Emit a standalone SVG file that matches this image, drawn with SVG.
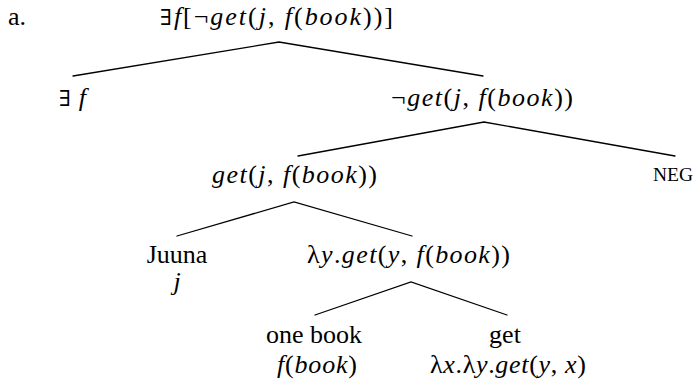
<svg xmlns="http://www.w3.org/2000/svg" width="698" height="381" viewBox="0 0 698 381">
  <style>
    .t { font-family: "Liberation Serif", "Times New Roman", serif; font-size: 26px; fill: #000; }
    .i { font-style: italic; }
    .op { font-family: "DejaVu Serif", "Liberation Serif", serif; font-size: 22px; font-style: normal; }
    .sc { font-size: 19.5px; }
    .edge { stroke: #000; stroke-width: 1.3; fill: none; stroke-linecap: round; }
  </style>
  <rect width="698" height="381" fill="#fff"/>

  <text class="t" x="8" y="25">a.</text>

  <!-- tree branches -->
  <g id="connectors">
    <path class="edge" d="M73,76 L279,42 L483,76"/>
    <path class="edge" d="M298,156 L484,122 L675,156"/>
    <path class="edge" d="M177,236 L294,202 L412,236"/>
    <path class="edge" d="M315,315 L411,282 L507,315"/>
  </g>

  <g id="root">
    <text class="t" x="160" y="25" textLength="233" lengthAdjust="spacing"><tspan class="op">∃</tspan><tspan class="i">f</tspan>[¬<tspan class="i">get</tspan>(<tspan class="i">j</tspan>, <tspan class="i">f</tspan>(<tspan class="i">book</tspan>))]</text>
  </g>

  <g id="exists">
    <text class="t" x="59" y="106" textLength="27" lengthAdjust="spacing"><tspan class="op">∃</tspan><tspan class="i">f</tspan></text>
  </g>

  <g id="neg-get">
    <text class="t" x="391" y="106" textLength="182" lengthAdjust="spacing">¬<tspan class="i">get</tspan>(<tspan class="i">j</tspan>, <tspan class="i">f</tspan>(<tspan class="i">book</tspan>))</text>
  </g>

  <g id="get-j">
    <text class="t" x="212" y="183" textLength="165" lengthAdjust="spacing"><tspan class="i">get</tspan>(<tspan class="i">j</tspan>, <tspan class="i">f</tspan>(<tspan class="i">book</tspan>))</text>
  </g>

  <g id="neg">
    <text class="t sc" x="653" y="181">NEG</text>
  </g>

  <g id="juuna">
    <text class="t" x="177" y="263" text-anchor="middle">Juuna</text>
    <text class="t i" x="177" y="290" text-anchor="middle">j</text>
  </g>

  <g id="lambda-y">
    <text class="t" x="307" y="263" textLength="203" lengthAdjust="spacing">λ<tspan class="i">y</tspan>.<tspan class="i">get</tspan>(<tspan class="i">y</tspan>, <tspan class="i">f</tspan>(<tspan class="i">book</tspan>))</text>
  </g>

  <g id="one-book">
    <text class="t" x="314" y="343" text-anchor="middle">one book</text>
    <text class="t" x="277" y="373" textLength="80" lengthAdjust="spacing"><tspan class="i">f</tspan>(<tspan class="i">book</tspan>)</text>
  </g>

  <g id="get">
    <text class="t" x="505" y="343" text-anchor="middle">get</text>
    <text class="t" x="430" y="373" textLength="156" lengthAdjust="spacing">λ<tspan class="i">x</tspan>.λ<tspan class="i">y</tspan>.<tspan class="i">get</tspan>(<tspan class="i">y</tspan>, <tspan class="i">x</tspan>)</text>
  </g>
</svg>
